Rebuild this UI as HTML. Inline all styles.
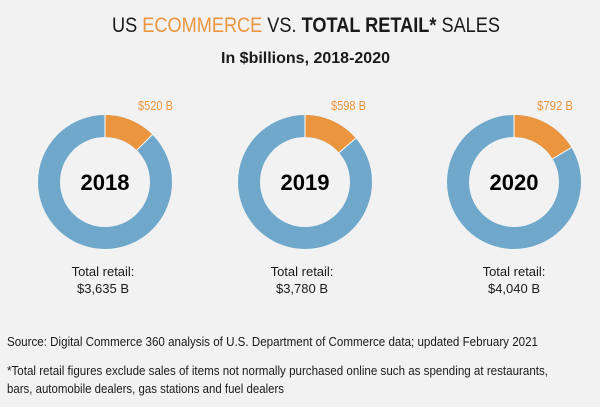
<!DOCTYPE html>
<html><head><meta charset="utf-8"><style>
html,body{margin:0;padding:0;background:#f2f2f2;}
svg{display:block;font-family:"Liberation Sans",sans-serif;}
</style></head><body>
<svg width="600" height="407" viewBox="0 0 600 407" xmlns="http://www.w3.org/2000/svg">
<rect width="600" height="407" fill="#f2f2f2"/>
<text x="112" y="32" font-size="21" fill="#1a1a1a" textLength="388" lengthAdjust="spacingAndGlyphs">US <tspan fill="#EB953F">ECOMMERCE</tspan> VS. <tspan font-weight="bold">TOTAL RETAIL*</tspan> SALES</text>
<text x="221" y="63" font-size="16" font-weight="bold" fill="#1a1a1a" textLength="169" lengthAdjust="spacingAndGlyphs">In $billions, 2018-2020</text>

<g fill="none" stroke-width="22">
<circle cx="105" cy="182" r="56" stroke="#6FA8CB"/>
<circle cx="105" cy="182" r="56" stroke="#EB953F" stroke-dasharray="43.9 400" transform="rotate(-90 105 182)"/>
<circle cx="305" cy="182" r="56" stroke="#6FA8CB"/>
<circle cx="305" cy="182" r="56" stroke="#EB953F" stroke-dasharray="48.1 400" transform="rotate(-90 305 182)"/>
<circle cx="514" cy="182" r="56" stroke="#6FA8CB"/>
<circle cx="514" cy="182" r="56" stroke="#EB953F" stroke-dasharray="57.7 400" transform="rotate(-90 514 182)"/>
</g>
<g stroke="#ffffff" stroke-width="1">
<line x1="105" y1="115" x2="105" y2="137"/><line x1="152.4" y1="134.6" x2="136.8" y2="150.2"/>
<line x1="305" y1="115" x2="305" y2="137"/><line x1="355.7" y1="138.2" x2="339.1" y2="152.6"/>
<line x1="514" y1="115" x2="514" y2="137"/><line x1="571.4" y1="147.5" x2="552.6" y2="158.8"/>
</g>

<g font-size="13" fill="#EB953F">
<text x="138" y="110" textLength="35" lengthAdjust="spacingAndGlyphs">$520 B</text>
<text x="331" y="110" textLength="35" lengthAdjust="spacingAndGlyphs">$598 B</text>
<text x="537" y="110" textLength="36" lengthAdjust="spacingAndGlyphs">$792 B</text>
</g>
<g font-size="22" font-weight="bold" fill="#000" text-anchor="middle">
<text x="105" y="190">2018</text>
<text x="305" y="190">2019</text>
<text x="514" y="190">2020</text>
</g>
<g font-size="13" fill="#1a1a1a" text-anchor="middle">
<text x="103" y="276">Total retail:</text><text x="103" y="293">$3,635 B</text>
<text x="302" y="276">Total retail:</text><text x="302" y="293">$3,780 B</text>
<text x="514" y="276">Total retail:</text><text x="514" y="293">$4,040 B</text>
</g>
<g font-size="13" fill="#1a1a1a">
<text x="7" y="346" textLength="531" lengthAdjust="spacingAndGlyphs">Source: Digital Commerce 360 analysis of U.S. Department of Commerce data; updated February 2021</text>
<text x="7" y="375" textLength="541" lengthAdjust="spacingAndGlyphs">*Total retail figures exclude sales of items not normally purchased online such as spending at restaurants,</text>
<text x="7" y="393" textLength="277" lengthAdjust="spacingAndGlyphs">bars, automobile dealers, gas stations and fuel dealers</text>
</g>
</svg>
</body></html>
